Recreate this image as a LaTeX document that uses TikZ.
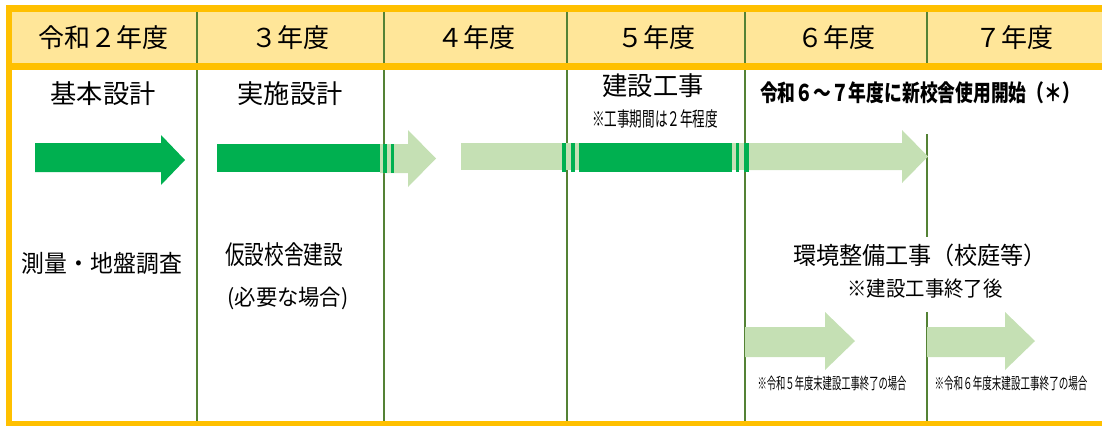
\documentclass[tikz,border=0pt]{standalone}
\usepackage{fontspec}
\usepackage{graphicx}
\setmainfont{Noto Sans CJK JP}
\definecolor{frameorange}{HTML}{FFC000}
\definecolor{hdryellow}{HTML}{FFE699}
\definecolor{gridgreen}{HTML}{548235}
\definecolor{darkgreen}{HTML}{00B050}
\definecolor{lightgreen}{HTML}{C5E0B4}
\newcommand{\FitText}[2]{\resizebox{#1pt}{\height}{#2}}
\tikzset{
  yearlabel/.style={inner sep=0pt, font=\fontsize{26}{28}\selectfont},
  tasklabel/.style={inner sep=0pt},
  gridline/.style={gridgreen, line width=2pt},
  donebar/.style={fill=darkgreen},
  planbar/.style={fill=lightgreen}
}

\begin{document}
\begin{tikzpicture}[x=1pt, y=-1pt]
    \useasboundingbox (0,0) rectangle (1102,426);
    \fill[hdryellow] (6,5) rectangle (1102,70);
    % year columns
    \draw[gridline] (197,12) -- (197,421);
    \draw[gridline] (384,12) -- (384,421);
    \draw[gridline] (567,12) -- (567,421);
    \draw[gridline] (745,12) -- (745,421);
    \draw[gridline] (927,12) -- (927,63);
    \draw[gridline] (927,134) -- (927,237);
    \draw[gridline] (927,312) -- (927,421);
    % frame
    \fill[frameorange] (6,5) rectangle (1102,12);
    \fill[frameorange] (6,63) rectangle (1102,70);
    \fill[frameorange] (6,5) rectangle (12,426);
    \fill[frameorange] (6,421) rectangle (1102,426);
    %
    \node[yearlabel] (r2) at (103,38) {\FitText{130}{令和２年度}};
    \node[yearlabel] (r3) at (290,38) {３年度};
    \node[yearlabel] (r4) at (476,38) {４年度};
    \node[yearlabel] (r5) at (656,38) {５年度};
    \node[yearlabel] (r6) at (836,38) {６年度};
    \node[yearlabel] (r7) at (1014,38) {７年度};
    % bars
    \fill[donebar] (35,143) -- (161,143) -- (161,135) -- (185,160) -- (161,185) -- (161,172) -- (35,172) -- cycle;
    \fill[planbar] (380,144) -- (408,144) -- (408,130) -- (436,158.5) -- (408,187) -- (408,173) -- (380,173) -- cycle;
    \fill[donebar] (217,144) rectangle (380,172);
    \fill[donebar] (383,144) rectangle (387,173);
    \fill[donebar] (391,144) rectangle (394,173);
    \fill[planbar] (461,143) rectangle (749,170);
    \fill[planbar] (749,143) -- (902,143) -- (902,130) -- (928,156.5) -- (902,183) -- (902,170) -- (749,170) -- cycle;
    \fill[donebar] (562,143) rectangle (566,172);
    \fill[donebar] (571,143) rectangle (575,172);
    \fill[donebar] (579,143) rectangle (732,172);
    \fill[donebar] (736,143) rectangle (739,172);
    \fill[donebar] (744,143) rectangle (749,172);
    \fill[planbar] (745,327) -- (825,327) -- (825,312) -- (855,341) -- (825,370) -- (825,357) -- (745,357) -- cycle;
    \fill[planbar] (927,327) -- (1005,327) -- (1005,312) -- (1035,341) -- (1005,370) -- (1005,357) -- (927,357) -- cycle;
    %
    \node[tasklabel, font=\fontsize{26}{28}\selectfont] (kihon) at (103,94) {\FitText{105}{基本設計}};
    \node[tasklabel, font=\fontsize{26}{28}\selectfont] (jisshi) at (290,94) {\FitText{105}{実施設計}};
    \node[tasklabel, font=\fontsize{26}{28}\selectfont] (kensetsu) at (653,86) {\FitText{101}{建設工事}};
    \node[tasklabel, font=\fontsize{20}{22}\selectfont] (kikan) at (655,119) {\FitText{126}{※工事期間は２年程度}};
    \node[tasklabel, font=\fontsize{23}{24}\selectfont\bfseries] (shiyou) at (920,93) {\FitText{320}{令和６～７年度に新校舎使用開始（＊）}};
    \node[tasklabel, font=\fontsize{24}{26}\selectfont] (sokuryou) at (102,263) {\FitText{160}{測量・地盤調査}};
    \node[tasklabel, font=\fontsize{26}{28}\selectfont] (kasetsu) at (284,255) {\FitText{118}{仮設校舎建設}};
    \node[tasklabel, font=\fontsize{22}{24}\selectfont] (hitsuyou) at (288,298) {\FitText{121}{(必要な場合)}};
    \node[tasklabel, font=\fontsize{24}{26}\selectfont] (kankyou) at (920,255) {\FitText{254}{環境整備工事（校庭等）}};
    \node[tasklabel, font=\fontsize{21}{22}\selectfont] (shuuryou) at (925,289) {\FitText{155}{※建設工事終了後}};
    \node[tasklabel, font=\fontsize{16}{17}\selectfont] (caseR5) at (832,383) {\FitText{149}{※令和５年度末建設工事終了の場合}};
    \node[tasklabel, font=\fontsize{16}{17}\selectfont] (caseR6) at (1011,383) {\FitText{153}{※令和６年度末建設工事終了の場合}};
  \end{tikzpicture}
\end{document}
